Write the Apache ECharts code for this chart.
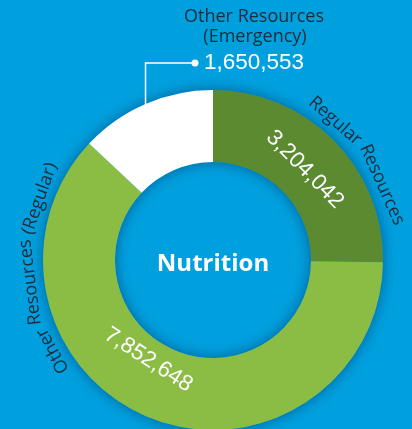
<!DOCTYPE html>
<html>
<head>
<meta charset="utf-8">
<script src="https://cdn.jsdelivr.net/npm/echarts@6/dist/echarts.min.js"></script>
<style>
html,body{margin:0;padding:0;background:#00a0df;}
#chart{width:412px;height:429px;}
</style>
</head>
<body>
<div id="chart"></div>
<script>
// ---- data ----
const categories = ['Regular Resources', 'Other Resources (Regular)', 'Other Resources (Emergency)'];
const values = [3204042, 7852648, 1650553];
const centerLabel = 'Nutrition';

// ---- style / layout ----
const colors = ['#5b8a31', '#8bbd44', '#ffffff'];
const bg = '#00a0df';
const dark = '#1f2b3a';
const CX = 213, CY = 260, R0 = 98, R1 = 170;
const nameFont = '18px "Open Sans"';
const numFont = '22.5px "Liberation Sans", Arial, sans-serif';

const total = values.reduce((a, b) => a + b, 0);
// slice angles (math degrees, CCW positive), pie starts at 90 going clockwise
const slices = [];
let cum = 0;
values.forEach(v => {
  const a0 = 90 - cum / total * 360;
  const a1 = 90 - (cum + v) / total * 360;
  slices.push({a0, a1, span: a0 - a1});
  cum += v;
});
const fmt = v => v.toLocaleString('en-US');
const rad = d => d * Math.PI / 180;

const ctx = document.createElement('canvas').getContext('2d');
function measure(t, font) { ctx.font = font; return ctx.measureText(t).width; }

function txt(text, x, y, rotation, font, fill, align, valign) {
  return {
    type: 'text', x, y, z: 100, rotation: rotation || 0, silent: true,
    style: {text, font, fill, align: align || 'center', verticalAlign: valign || 'middle',
            textAlign: align || 'center', textVerticalAlign: valign || 'middle'}
  };
}

// words laid along an arc, read clockwise, bottoms toward centre
function arcWords(text, font, r, midDeg, fill) {
  const words = text.split(' ');
  const ws = words.map(w => measure(w, font));
  const sp = measure(' ', font);
  const L = ws.reduce((a, b) => a + b, 0) + sp * (words.length - 1);
  const start = rad(midDeg) + L / r / 2;
  let p = 0;
  return words.map((w, i) => {
    const c = p + ws[i] / 2;
    p += ws[i] + sp;
    const th = start - c / r;
    return txt(w, CX + r * Math.cos(th), CY - r * Math.sin(th), th - Math.PI / 2, font, fill);
  });
}

const graphics = [];
// Regular Resources name (outside) and value (inside)
graphics.push(...arcWords(categories[0], nameFont, 185, slices[0].a1 + slices[0].span * 0.39, dark));
{
  const th = rad(slices[0].a0 - slices[0].span * 0.5), r = 129;
  graphics.push(txt(fmt(values[0]), CX + r * Math.cos(th), CY - r * Math.sin(th), th - Math.PI / 2, numFont, '#fff'));
}
// Other Resources (Regular): name on left, value at bottom-left
graphics.push(...arcWords(categories[1], nameFont, 184, 183, dark));
{
  const th = rad(slices[1].a0 - slices[1].span * 0.549), r = 119;
  graphics.push(txt(fmt(values[1]), CX + r * Math.cos(th), CY - r * Math.sin(th), th + Math.PI / 2, numFont, '#fff'));
}
// Emergency: leader line from slice middle
{
  const th = rad((slices[2].a0 + slices[2].a1) / 2);
  const x0 = CX + R1 * Math.cos(th), y0 = CY - R1 * Math.sin(th);
  const ly = 63, dx = 195;
  graphics.push({type: 'polyline', z: 100, silent: true, shape: {points: [[x0, y0 + 2], [x0, ly], [dx, ly]]},
                 style: {stroke: '#fff', lineWidth: 1.5, fill: null}});
  graphics.push({type: 'circle', z: 100, silent: true, shape: {cx: dx, cy: ly, r: 3.5}, style: {fill: '#fff'}});
  graphics.push(txt(fmt(values[2]), 204, ly, 0, numFont, '#fff', 'left', 'middle'));
  const nm = categories[2];
  const idx = nm.indexOf(' (');
  graphics.push(txt(nm.slice(0, idx), 254, 17, 0, nameFont, dark));
  graphics.push(txt(nm.slice(idx + 1), 255, 36.5, 0, nameFont, dark));
}
// centre
graphics.push(txt(centerLabel, CX, CY + 4, 0, 'bold 24px "Open Sans"', '#fff'));

const chart = echarts.init(document.getElementById('chart'), null, {renderer: 'canvas'});
chart.setOption({
  backgroundColor: bg,
  animation: false,
  series: [
    { // shadow ring underneath
      type: 'pie', silent: true, z: 1, center: [CX, CY], radius: [R0, R1],
      label: {show: false}, labelLine: {show: false},
      itemStyle: {color: bg, borderWidth: 0, shadowBlur: 14, shadowColor: 'rgba(0,20,60,0.45)'},
      data: [{value: total, name: 'all'}]
    },
    {
      type: 'pie', silent: true, z: 2, center: [CX, CY], radius: [R0, R1],
      startAngle: 90, clockwise: true,
      label: {show: false}, labelLine: {show: false},
      itemStyle: {borderWidth: 0},
      data: categories.map((c, i) => ({name: c, value: values[i], itemStyle: {color: colors[i]}}))
    }
  ],
  graphic: {elements: graphics}
});
</script>
</body>
</html>
